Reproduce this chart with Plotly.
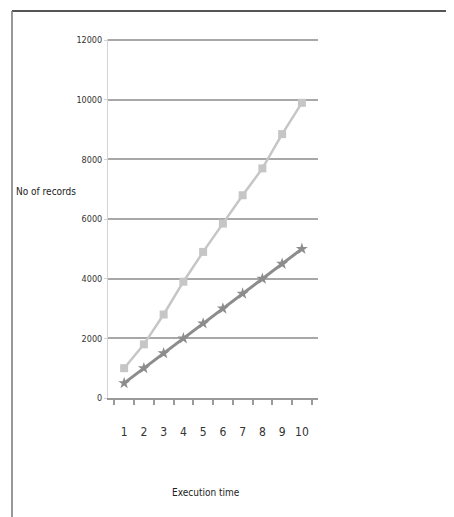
import plotly.graph_objects as go

categories = ["1", "2", "3", "4", "5", "6", "7", "8", "9", "10"]
series_upper = [1000, 1800, 2800, 3900, 4900, 5850, 6800, 7700, 8850, 9900]
series_lower = [500, 1000, 1500, 2000, 2500, 3000, 3500, 4000, 4500, 5000]
y_ticks = [0, 2000, 4000, 6000, 8000, 10000, 12000]

FONT = "Liberation Sans Narrow, DejaVu Sans Condensed, Roboto, sans-serif"

# page body has an 8px margin, so positions are offset by 8px
L, T, PW, PH = 100, 31, 210, 359

fig = go.Figure()
fig.add_trace(go.Scatter(
    x=categories, y=series_upper, mode="lines+markers",
    line=dict(color="#c6c6c6", width=2.5),
    marker=dict(symbol="square", size=8, color="#c6c6c6"),
    showlegend=False,
))
fig.add_trace(go.Scatter(
    x=categories, y=series_lower, mode="lines+markers",
    line=dict(color="#8c8c8c", width=3),
    marker=dict(symbol="star", size=9, color="#8c8c8c"),
    showlegend=False,
))

fig.update_layout(
    width=454, height=517,
    margin=dict(l=L, r=454 - L - PW, t=T, b=517 - T - PH, autoexpand=False),
    paper_bgcolor="white", plot_bgcolor="white",
    font=dict(family=FONT, size=10, color="#333333"),
    xaxis=dict(
        type="category", tickson="boundaries", ticks="outside", ticklen=5,
        tickcolor="#9a9a9a", tickwidth=1.5, tickangle=0,
        showline=True, linecolor="#9a9a9a", linewidth=2,
        showgrid=False, ticklabelstandoff=22,
        tickfont=dict(size=12),
    ),
    yaxis=dict(
        range=[0, 12040], tickvals=y_ticks, ticktext=[str(v) for v in y_ticks],
        showgrid=True, gridcolor="#a8a8a8", gridwidth=2,
        zeroline=False,
        showline=True, linecolor="#d4d4d4", linewidth=1,
        ticks="outside", ticklen=3, tickcolor="#d4d4d4",
        tickfont=dict(size=9),
    ),
    shapes=[
        dict(type="line", xref="paper", yref="paper",
             x0=(4 - L) / PW, x1=(470 - L) / PW, y0=1 + (T - 3) / PH, y1=1 + (T - 3) / PH,
             line=dict(color="#555555", width=2)),
        dict(type="line", xref="paper", yref="paper",
             x0=(4 - L) / PW, x1=(4 - L) / PW, y0=1 + (T - 3) / PH, y1=-0.4,
             line=dict(color="#777777", width=1.5)),
    ],
    annotations=[
        dict(text="No of records", xref="paper", yref="paper",
             x=(38 - L) / PW, y=1 - (183 - T) / PH, showarrow=False,
             xanchor="center", yanchor="middle",
             font=dict(size=10, color="#222222")),
        dict(text="Execution time", xref="paper", yref="paper",
             x=(198 - L) / PW, y=1 - (484 - T) / PH, showarrow=False,
             xanchor="center", yanchor="middle",
             font=dict(size=10, color="#222222")),
    ],
)

fig.write_html("out.html")
